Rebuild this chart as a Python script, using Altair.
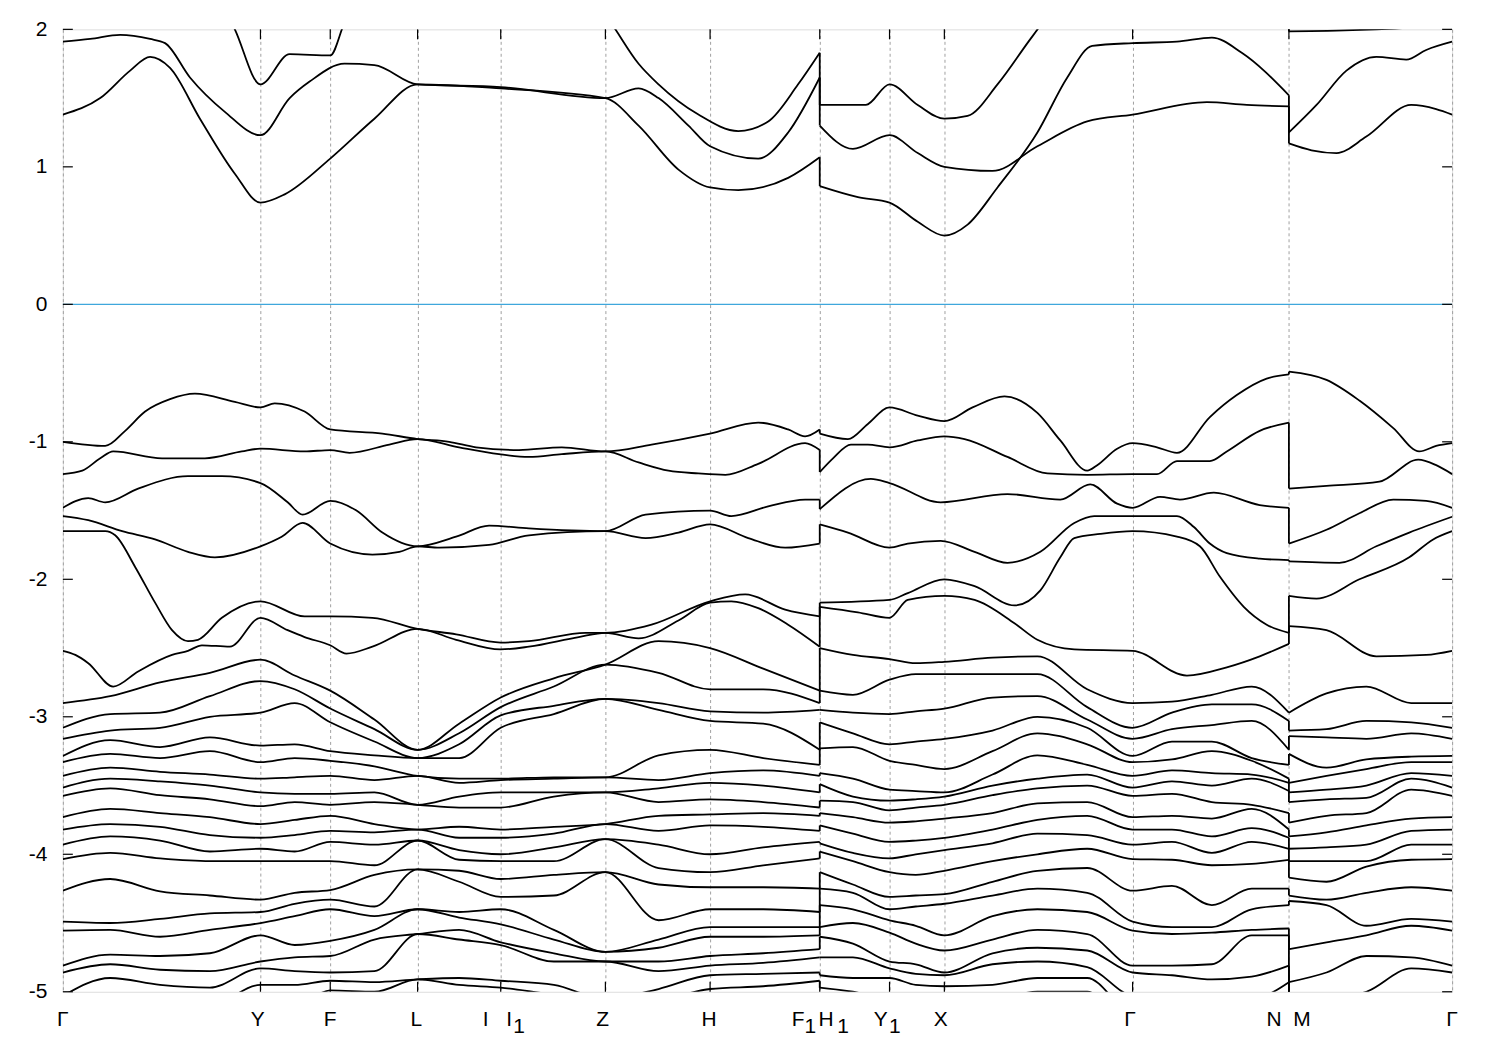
import json
import altair as alt
import pandas as pd

# ---- k-path (path coordinate) and labels ----
HS_K = [62.5, 260.7, 330.7, 418.3, 501.7, 606.7, 711.7, 821.7, 891.7, 946.7, 1135.5, 1292.3, 1456.0]
Y_TICKS = [2, 1, 0, -1, -2, -3, -4, -5]
# axis label glyphs: (k, text, pixel shift)
XL_K    = [62.5, 260.7, 330.7, 418.3, 501.7, 501.7, 606.7, 711.7, 821.7, 821.7, 891.7, 946.7, 1135.5, 1292.3, 1292.3, 1456.0]
XL_TEXT = ["Γ", "Y", "F", "L", "I", "I", "Z", "H", "F", "H", "Y", "X", "Γ", "N", "M", "Γ"]
XL_DX   = [0, -2.7, 0, -1.3, -15, 8.5, -2.7, -1, -21.7, 6.3, -8.7, -3.7, -2.5, -15, 13, 0]
XS_K    = [501.7, 821.7, 821.7, 891.7]
XS_TEXT = ["1", "1", "1", "1"]
XS_DX   = [18.5, -9.5, 23.3, 5.3]

# ---- conduction bands (k, E) ; repeated k = discontinuity ----
C1 = [(62.5,1.38),(100,1.5),(130,1.7),(150,1.8),(170,1.72),(200,1.35),(235,0.95),(260.7,0.74),(285,0.8),(330.7,1.06),(375,1.35),(418.3,1.6),(501.7,1.57),(606.7,1.5),(640,1.3),(680,0.98),(711.7,0.85),(740,0.83),(790,0.92),(821.7,1.07),
      (821.7,0.86),(860,0.78),(891.7,0.74),(920,0.6),(946.7,0.5),(970,0.58),(1000,0.85),(1040,1.25),(1070,1.65),(1095,1.88),(1135.5,1.9),(1180,1.91),(1215,1.94),(1245,1.83),(1292.3,1.52),
      (1292.3,1.25),(1320,1.45),(1350,1.7),(1380,1.8),(1410,1.78),(1430,1.85),(1456,1.91)]
C2 = [(62.5,1.91),(90,1.93),(120,1.96),(150,1.93),(165,1.9),(190,1.65),(225,1.4),(260.7,1.23),(290,1.5),(310,1.62),(345,1.75),(375,1.74),(418.3,1.6),(501.7,1.58),(606.7,1.5),(640,1.57),(660,1.5),(690,1.3),(711.7,1.15),(760,1.06),(790,1.25),(821.7,1.65),
      (821.7,1.3),(855,1.13),(891.7,1.23),(920,1.1),(946.7,1.0),(995,0.97),(1040,1.15),(1090,1.33),(1135.5,1.38),(1210,1.47),(1250,1.45),(1292.3,1.44),
      (1292.3,1.17),(1315,1.12),(1340,1.1),(1370,1.22),(1415,1.45),(1440,1.42),(1456,1.38)]
C3 = [(200,2.5),(235,2.0),(260.7,1.6),(290,1.82),(330.7,1.81),(345,2.05),(380,2.5),(560,2.5),(612,2.05),(640,1.75),(660,1.6),(700,1.38),(740,1.26),(770,1.33),(800,1.6),(821.7,1.83),
      (821.7,1.45),(868,1.45),(891.7,1.6),(920,1.45),(946.7,1.35),(970,1.37),(1000,1.6),(1030,1.9),(1045,2.05),(1080,2.5),(1260,2.5),(1292.3,2.3),
      (1292.3,1.985),(1340,1.99),(1380,2.0),(1456,2.03)]

# ---- upper valence bands ----
V1 = [(62.5,-1.0),(105,-1.03),(125,-0.92),(145,-0.78),(170,-0.69),(195,-0.65),(235,-0.71),(260.7,-0.75),(275,-0.72),(305,-0.78),(330.7,-0.91),(383,-0.94),(418.3,-0.98),(450,-1.0),(477,-1.04),(520,-1.06),(563,-1.04),(606.7,-1.07),(653,-1.02),(711.7,-0.94),(760,-0.86),(790,-0.91),(807,-0.96),(821.7,-0.91),
      (821.7,-0.94),(850,-0.98),(870,-0.87),(891.7,-0.75),(920,-0.81),(946.7,-0.85),(975,-0.75),(1007,-0.67),(1040,-0.79),(1063,-0.99),(1090,-1.21),(1100,-1.17),(1120,-1.05),(1135.5,-1.01),(1160,-1.04),(1180,-1.08),(1213,-0.82),(1240,-0.66),(1270,-0.54),(1292.3,-0.51),
      (1292.3,-0.49),(1330,-0.55),(1363,-0.7),(1397,-0.9),(1423,-1.07),(1440,-1.03),(1456,-1.01)]
V2 = [(62.5,-1.235),(82,-1.21),(100,-1.12),(113,-1.07),(162,-1.12),(205,-1.12),(242,-1.07),(260.7,-1.05),(305,-1.07),(330.7,-1.06),(350,-1.08),(390,-1.02),(418.3,-0.98),(460,-1.04),(500,-1.09),(530,-1.11),(563,-1.09),(606.7,-1.07),(640,-1.15),(670,-1.21),(700,-1.23),(727,-1.24),(760,-1.16),(807,-1.01),(821.7,-1.06),
      (821.7,-1.22),(835,-1.12),(853,-1.02),(870,-1.02),(891.7,-1.04),(920,-0.99),(946.7,-0.96),(967,-0.98),(1010,-1.11),(1050,-1.23),(1090,-1.24),(1135.5,-1.235),(1160,-1.235),(1180,-1.14),(1213,-1.14),(1230,-1.07),(1263,-0.92),(1292.3,-0.86),
      (1292.3,-1.34),(1330,-1.32),(1383,-1.29),(1422,-1.13),(1440,-1.17),(1456,-1.235)]
V3 = [(62.5,-1.48),(88,-1.41),(105,-1.44),(138,-1.34),(188,-1.25),(222,-1.25),(260.7,-1.30),(288,-1.44),(303,-1.53),(330.7,-1.43),(357,-1.50),(383,-1.66),(418.3,-1.76),(457,-1.69),(490,-1.61),(530,-1.63),(606.7,-1.65),(647,-1.53),(711.7,-1.50),(733,-1.54),(770,-1.47),(807,-1.42),(821.7,-1.42),
      (821.7,-1.49),(873,-1.27),(891.7,-1.30),(943,-1.44),(1010,-1.38),(1063,-1.42),(1093,-1.31),(1120,-1.45),(1135.5,-1.48),(1163,-1.40),(1183,-1.42),(1217,-1.37),(1263,-1.46),(1292.3,-1.48),
      (1292.3,-1.74),(1330,-1.64),(1363,-1.52),(1397,-1.42),(1430,-1.43),(1456,-1.48)]
V4 = [(62.5,-1.54),(88,-1.57),(122,-1.65),(155,-1.71),(188,-1.80),(215,-1.84),(260.7,-1.76),(282,-1.69),(303,-1.59),(330.7,-1.74),(373,-1.82),(400,-1.80),(418.3,-1.76),(440,-1.77),(490,-1.75),(530,-1.68),(606.7,-1.65),(647,-1.70),(680,-1.66),(711.7,-1.60),(750,-1.70),(787,-1.77),(821.7,-1.74),
      (821.7,-1.60),(850,-1.66),(891.7,-1.77),(910,-1.74),(943,-1.72),(977,-1.80),(1010,-1.88),(1043,-1.80),(1077,-1.59),(1097,-1.54),(1135.5,-1.54),(1180,-1.54),(1197,-1.62),(1213,-1.74),(1230,-1.81),(1263,-1.85),(1292.3,-1.86),
      (1292.3,-1.87),(1343,-1.88),(1380,-1.76),(1413,-1.66),(1456,-1.545)]
V5 = [(62.5,-1.65),(105,-1.65),(115,-1.68),(135,-1.91),(155,-2.17),(172,-2.37),(188,-2.45),(198,-2.44),(222,-2.28),(260.7,-2.16),(305,-2.27),(330.7,-2.27),(373,-2.28),(418.3,-2.36),(457,-2.40),(501.7,-2.46),(530,-2.45),(587,-2.39),(606.7,-2.39),(653,-2.33),(711.7,-2.16),(747,-2.11),(787,-2.22),(821.7,-2.27),
      (821.7,-2.17),(891.7,-2.15),(910,-2.10),(946.7,-2.00),(977,-2.05),(1017,-2.19),(1043,-2.08),(1063,-1.84),(1077,-1.70),(1103,-1.67),(1135.5,-1.65),(1180,-1.69),(1203,-1.76),(1223,-1.98),(1247,-2.20),(1270,-2.33),(1292.3,-2.39),
      (1292.3,-2.12),(1320,-2.14),(1363,-2.0),(1413,-1.84),(1437,-1.71),(1456,-1.65)]
V6 = [(62.5,-2.52),(75,-2.55),(88,-2.61),(113,-2.78),(138,-2.67),(172,-2.55),(188,-2.52),(202,-2.48),(230,-2.49),(260.7,-2.28),(288,-2.37),(305,-2.42),(330.7,-2.48),(347,-2.54),(373,-2.49),(418.3,-2.36),(457,-2.44),(501.7,-2.51),(530,-2.49),(580,-2.42),(606.7,-2.39),(640,-2.43),(680,-2.30),(711.7,-2.17),(733,-2.16),(760,-2.21),(790,-2.33),(821.7,-2.49),
      (821.7,-2.20),(860,-2.24),(891.7,-2.28),(910,-2.15),(946.7,-2.12),(977,-2.15),(1017,-2.32),(1040,-2.44),(1077,-2.51),(1135.5,-2.52),(1190,-2.70),(1230,-2.64),(1263,-2.56),(1292.3,-2.47),
      (1292.3,-2.34),(1330,-2.37),(1380,-2.56),(1430,-2.55),(1456,-2.52)]

# ---- lower valence bands: energies (top to bottom) read at columns of k ----
COL_G    = [-2.90,-3.08,-3.16,-3.285,-3.33,-3.43,-3.515,-3.575,-3.73,-3.82,-3.93,-4.035,-4.265,-4.49,-4.555,-4.81,-4.86,-5.03,-5.15,-5.25,-5.35,-5.45]
COL_110  = [-2.85,-2.98,-3.10,-3.17,-3.27,-3.37,-3.45,-3.52,-3.67,-3.78,-3.87,-3.99,-4.18,-4.50,-4.55,-4.73,-4.80,-4.90,-5.10,-5.20,-5.30,-5.40]
COL_160  = [-2.75,-2.97,-3.08,-3.22,-3.30,-3.40,-3.47,-3.57,-3.70,-3.80,-3.90,-4.03,-4.27,-4.47,-4.60,-4.74,-4.84,-4.95,-5.10,-5.20,-5.30,-5.40]
COL_210  = [-2.68,-2.85,-3.00,-3.15,-3.25,-3.42,-3.50,-3.60,-3.73,-3.86,-3.98,-4.05,-4.30,-4.43,-4.55,-4.72,-4.85,-4.97,-5.10,-5.20,-5.30,-5.40]
COL_Y    = [-2.585,-2.74,-2.97,-3.21,-3.33,-3.45,-3.55,-3.65,-3.78,-3.88,-3.96,-4.05,-4.33,-4.42,-4.50,-4.59,-4.78,-4.83,-4.95,-5.10,-5.20,-5.30]
COL_295  = [-2.70,-2.80,-2.90,-3.20,-3.30,-3.44,-3.56,-3.62,-3.75,-3.86,-3.98,-4.05,-4.28,-4.36,-4.45,-4.66,-4.75,-4.85,-4.95,-5.10,-5.20,-5.30]
COL_F    = [-2.81,-2.94,-3.04,-3.25,-3.32,-3.43,-3.56,-3.64,-3.72,-3.83,-3.91,-4.05,-4.26,-4.33,-4.40,-4.63,-4.74,-4.86,-4.92,-4.99,-5.10,-5.20]
COL_375  = [-3.02,-3.09,-3.18,-3.28,-3.36,-3.46,-3.55,-3.62,-3.78,-3.84,-3.93,-4.08,-4.15,-4.38,-4.45,-4.55,-4.62,-4.85,-4.93,-5.00,-5.10,-5.20]
COL_L    = [-3.24,-3.24,-3.30,-3.30,-3.43,-3.43,-3.64,-3.64,-3.82,-3.82,-3.90,-3.90,-4.11,-4.11,-4.40,-4.40,-4.58,-4.58,-4.91,-4.91,-5.10,-5.20]
COL_460  = [-3.05,-3.12,-3.20,-3.30,-3.45,-3.48,-3.58,-3.66,-3.80,-3.88,-3.97,-4.04,-4.12,-4.20,-4.42,-4.46,-4.55,-4.62,-4.90,-4.95,-5.10,-5.20]
COL_I    = [-2.86,-2.93,-2.99,-3.08,-3.45,-3.46,-3.55,-3.66,-3.82,-3.88,-4.00,-4.05,-4.18,-4.31,-4.40,-4.51,-4.64,-4.66,-4.92,-4.97,-5.05,-5.15]
COL_555  = [-2.72,-2.78,-2.92,-2.98,-3.44,-3.45,-3.55,-3.58,-3.80,-3.85,-3.95,-4.05,-4.15,-4.30,-4.55,-4.62,-4.72,-4.78,-4.95,-5.02,-5.10,-5.20]
COL_Z    = [-2.62,-2.62,-2.87,-2.87,-3.44,-3.44,-3.55,-3.55,-3.78,-3.78,-3.89,-3.89,-4.13,-4.13,-4.71,-4.71,-4.78,-4.78,-5.05,-5.05,-5.15,-5.25]
COL_660  = [-2.45,-2.68,-2.90,-2.95,-3.28,-3.46,-3.52,-3.62,-3.72,-3.83,-3.93,-4.10,-4.22,-4.48,-4.62,-4.68,-4.78,-4.85,-4.98,-5.05,-5.15,-5.25]
COL_H    = [-2.50,-2.80,-2.96,-3.03,-3.24,-3.41,-3.48,-3.60,-3.71,-3.79,-4.00,-4.13,-4.24,-4.40,-4.53,-4.60,-4.74,-4.81,-4.88,-4.98,-5.10,-5.20]
COL_765  = [-2.65,-2.80,-2.97,-3.05,-3.30,-3.39,-3.50,-3.62,-3.70,-3.80,-3.95,-4.08,-4.24,-4.40,-4.53,-4.60,-4.72,-4.79,-4.87,-4.96,-5.10,-5.20]
COL_F1   = [-2.81,-2.90,-2.95,-3.24,-3.35,-3.43,-3.55,-3.66,-3.72,-3.83,-3.91,-4.03,-4.25,-4.42,-4.53,-4.59,-4.69,-4.75,-4.86,-4.92,-5.05,-5.15]
COL_H1   = [-2.50,-2.81,-2.95,-3.04,-3.23,-3.41,-3.49,-3.61,-3.70,-3.79,-3.92,-3.98,-4.13,-4.25,-4.37,-4.53,-4.60,-4.75,-4.88,-4.97,-5.10,-5.20]
COL_855  = [-2.55,-2.84,-2.97,-3.12,-3.22,-3.45,-3.58,-3.62,-3.73,-3.85,-3.99,-4.05,-4.22,-4.28,-4.40,-4.50,-4.65,-4.75,-4.90,-5.00,-5.10,-5.20]
COL_Y1   = [-2.58,-2.73,-2.98,-3.20,-3.32,-3.53,-3.61,-3.68,-3.77,-3.91,-4.03,-4.13,-4.31,-4.40,-4.48,-4.57,-4.78,-4.83,-4.90,-5.05,-5.15,-5.25]
COL_918  = [-2.61,-2.69,-2.96,-3.18,-3.35,-3.54,-3.60,-3.66,-3.76,-3.90,-4.00,-4.15,-4.30,-4.38,-4.52,-4.65,-4.80,-4.87,-4.95,-5.05,-5.15,-5.25]
COL_X    = [-2.60,-2.69,-2.94,-3.16,-3.38,-3.55,-3.58,-3.64,-3.74,-3.88,-3.97,-4.12,-4.29,-4.36,-4.59,-4.70,-4.86,-4.88,-4.96,-5.05,-5.15,-5.25]
COL_995  = [-2.57,-2.69,-2.86,-3.10,-3.25,-3.42,-3.50,-3.57,-3.70,-3.82,-3.92,-4.05,-4.20,-4.30,-4.45,-4.62,-4.72,-4.80,-4.95,-5.05,-5.15,-5.25]
COL_1040 = [-2.56,-2.69,-2.85,-3.00,-3.12,-3.28,-3.45,-3.52,-3.63,-3.75,-3.85,-4.00,-4.12,-4.25,-4.40,-4.55,-4.68,-4.78,-4.90,-5.00,-5.10,-5.20]
COL_1090 = [-2.80,-2.93,-3.02,-3.08,-3.20,-3.35,-3.42,-3.50,-3.62,-3.72,-3.86,-3.96,-4.10,-4.28,-4.42,-4.58,-4.70,-4.82,-4.90,-5.00,-5.10,-5.20]
COL_1175 = [-2.89,-2.97,-3.09,-3.18,-3.31,-3.39,-3.47,-3.56,-3.72,-3.82,-3.91,-4.04,-4.23,-4.53,-4.58,-4.81,-4.88,-5.05,-5.15,-5.25,-5.35,-5.45]
COL_1215 = [-2.84,-2.91,-3.06,-3.18,-3.25,-3.41,-3.50,-3.62,-3.74,-3.87,-3.99,-4.08,-4.37,-4.53,-4.57,-4.80,-4.91,-5.05,-5.15,-5.25,-5.35,-5.45]
COL_1255 = [-2.78,-2.91,-3.03,-3.30,-3.32,-3.42,-3.45,-3.64,-3.67,-3.81,-3.91,-4.07,-4.25,-4.40,-4.55,-4.59,-4.89,-5.05,-5.15,-5.25,-5.35,-5.45]
COL_N    = [-2.97,-3.03,-3.24,-3.35,-3.45,-3.48,-3.54,-3.70,-3.82,-3.88,-3.96,-4.04,-4.25,-4.37,-4.54,-4.59,-4.81,-4.93,-5.05,-5.15,-5.25,-5.35]
COL_M    = [-2.97,-3.10,-3.14,-3.27,-3.48,-3.55,-3.62,-3.77,-3.87,-3.96,-4.05,-4.17,-4.30,-4.34,-4.69,-4.93,-5.05,-5.15,-5.25,-5.35,-5.45,-5.55]
COL_1330 = [-2.83,-3.09,-3.15,-3.37,-3.43,-3.53,-3.60,-3.72,-3.84,-3.95,-4.05,-4.20,-4.33,-4.37,-4.64,-4.86,-5.05,-5.15,-5.25,-5.35,-5.45,-5.55]
COL_1370 = [-2.78,-3.03,-3.16,-3.31,-3.38,-3.50,-3.59,-3.70,-3.79,-3.93,-4.05,-4.09,-4.28,-4.52,-4.59,-4.74,-5.00,-5.10,-5.20,-5.30,-5.40,-5.50]
COL_1415 = [-2.90,-3.04,-3.12,-3.29,-3.33,-3.41,-3.45,-3.53,-3.74,-3.83,-3.93,-4.04,-4.24,-4.47,-4.52,-4.75,-4.83,-5.05,-5.15,-5.25,-5.35,-5.45]

LOWER_COLUMNS = [
    (62.5, COL_G), (110, COL_110), (160, COL_160), (210, COL_210), (260.7, COL_Y), (295, COL_295),
    (330.7, COL_F), (375, COL_375), (418.3, COL_L), (460, COL_460), (501.7, COL_I), (555, COL_555),
    (606.7, COL_Z), (660, COL_660), (711.7, COL_H), (765, COL_765), (821.7, COL_F1),
    (821.7, COL_H1), (855, COL_855), (891.7, COL_Y1), (918, COL_918), (946.7, COL_X), (995, COL_995),
    (1040, COL_1040), (1090, COL_1090), (1135.5, COL_G), (1175, COL_1175), (1215, COL_1215),
    (1255, COL_1255), (1292.3, COL_N),
    (1292.3, COL_M), (1330, COL_1330), (1370, COL_1370), (1415, COL_1415), (1456.0, COL_G),
]

# ---- build tables ----
rows, jumps = [], []

def add_band(name, knots):
    piece, prev = 0, None
    for k, e in knots:
        if prev is not None and k == prev[0]:
            jumps.append({"k": k, "e1": prev[1], "e2": e})
            piece += 1
        rows.append({"seg": f"{name}_{piece}", "k": k, "e": e})
        prev = (k, e)

for nm, kn in [("c1", C1), ("c2", C2), ("c3", C3), ("v1", V1), ("v2", V2), ("v3", V3),
               ("v4", V4), ("v5", V5), ("v6", V6)]:
    add_band(nm, kn)
for n in range(len(COL_G)):
    add_band(f"w{n}", [(x, col[n]) for x, col in LOWER_COLUMNS])

bands = pd.DataFrame(rows)
jumps = pd.DataFrame(jumps)
labels_main = pd.DataFrame({"k": XL_K, "t": XL_TEXT, "dx": XL_DX})
labels_sub = pd.DataFrame({"k": XS_K, "t": XS_TEXT, "dx": XS_DX})

W, H = 1393, 965
FONT = "Liberation Sans"
FS = 21
xs = alt.Scale(domain=[62.5, 1456.0], nice=False, zero=False)
ys = alt.Scale(domain=[-5, 2], nice=False, zero=False)
PX = (1456.0 - 62.5) / W  # data units per pixel on the k axis

x_axis = alt.Axis(values=HS_K, labels=False, grid=True, gridColor="#a0a0a0",
                  gridDash=[3, 3], gridWidth=1, ticks=False, domain=False, title=None)
y_axis = alt.Axis(values=Y_TICKS, labelExpr="'' + datum.value", grid=False, ticks=False,
                  domain=False, title=None, labelFont=FONT, labelFontSize=FS,
                  labelColor="black", labelPadding=16)

base_lines = alt.Chart(bands).mark_line(
    interpolate="monotone", clip=True, color="black", strokeWidth=1.8
).encode(
    x=alt.X("k:Q", scale=xs, axis=x_axis),
    y=alt.Y("e:Q", scale=ys, axis=y_axis),
    detail="seg:N",
)

jump_rules = alt.Chart(jumps).mark_rule(clip=True, color="black", strokeWidth=1.8).encode(
    x=alt.X("k:Q", scale=xs), y=alt.Y("e1:Q", scale=ys), y2="e2:Q")

zero_line = alt.Chart(pd.DataFrame({"e": [0]})).mark_rule(
    color="#3fa7dc", strokeWidth=1.3).encode(y=alt.Y("e:Q", scale=ys))

inner = pd.DataFrame({"k": HS_K[1:-1]})
xt_bot = alt.Chart(inner).mark_rule(color="black", strokeWidth=1.2).encode(
    x=alt.X("k:Q", scale=xs), y=alt.value(H), y2=alt.value(H - 10))
xt_top = alt.Chart(inner).mark_rule(color="black", strokeWidth=1.2).encode(
    x=alt.X("k:Q", scale=xs), y=alt.value(0), y2=alt.value(10))
yt = pd.DataFrame({"e": Y_TICKS})
yt_left = alt.Chart(yt).mark_rule(color="black", strokeWidth=1.2).encode(
    y=alt.Y("e:Q", scale=ys), x=alt.value(0), x2=alt.value(10))
yt_right = alt.Chart(yt).mark_rule(color="black", strokeWidth=1.2).encode(
    y=alt.Y("e:Q", scale=ys), x=alt.value(W), x2=alt.value(W - 10))

lab_main = alt.Chart(labels_main).transform_calculate(
    kx=f"datum.k + datum.dx * {PX}"
).mark_text(font=FONT, fontSize=FS, color="black", align="center", baseline="alphabetic").encode(
    x=alt.X("kx:Q", scale=xs), y=alt.value(H + 34), text="t:N")
lab_sub = alt.Chart(labels_sub).transform_calculate(
    kx=f"datum.k + datum.dx * {PX}"
).mark_text(font=FONT, fontSize=FS, color="black", align="center", baseline="alphabetic").encode(
    x=alt.X("kx:Q", scale=xs), y=alt.value(H + 41), text="t:N")

chart = alt.layer(
    zero_line, base_lines, jump_rules, xt_bot, xt_top, yt_left, yt_right, lab_main, lab_sub
).properties(
    width=W, height=H,
    autosize=alt.AutoSizeParams(type="none"),
    padding={"left": 55, "top": 20, "right": 40, "bottom": 60},
).configure_view(stroke="black", strokeWidth=2).configure(background="white")

chart.save("out.html", embed_options={"renderer": "svg", "actions": False})
